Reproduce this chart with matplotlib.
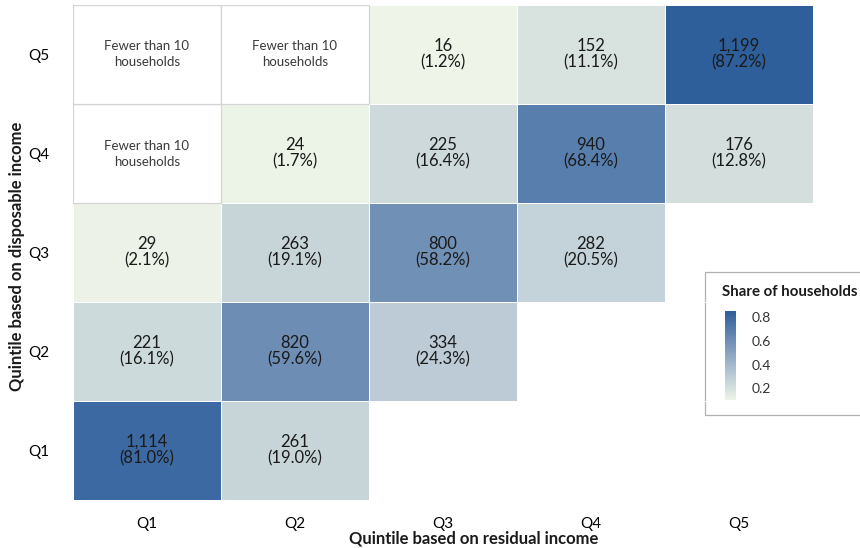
import numpy as np
import matplotlib
matplotlib.use("Agg")
import matplotlib.pyplot as plt
from matplotlib.colors import LinearSegmentedColormap, Normalize

plt.rcParams['font.family'] = ['Lato', 'DejaVu Sans']

quintiles = ["Q1", "Q2", "Q3", "Q4", "Q5"]
# rows: disposable income Q1..Q5, cols: residual income Q1..Q5
# -1 = fewer than 10 households, nan = no cell
counts = np.array([
    [1114, 261, np.nan, np.nan, np.nan],
    [221, 820, 334, np.nan, np.nan],
    [29, 263, 800, 282, np.nan],
    [-1, 24, 225, 940, 176],
    [-1, -1, 16, 152, 1199],
])
shares = np.array([
    [81.0, 19.0, np.nan, np.nan, np.nan],
    [16.1, 59.6, 24.3, np.nan, np.nan],
    [2.1, 19.1, 58.2, 20.5, np.nan],
    [np.nan, 1.7, 16.4, 68.4, 12.8],
    [np.nan, np.nan, 1.2, 11.1, 87.2],
])
legend_ticks = [0.2, 0.4, 0.6, 0.8]

cmap = LinearSegmentedColormap.from_list("share", [
    (0.0, "#eef4e8"), (0.14, "#d3dfdd"), (0.27, "#bccbd6"),
    (0.68, "#6d8db5"), (1.0, "#2e5f9b")])
norm = Normalize(vmin=0.01, vmax=0.872)

fig = plt.figure(figsize=(8.6, 5.48), dpi=100)
W, H = 860, 548
ax = fig.add_axes([73 / W, 1 - 500 / H, 740 / W, 495 / H])
ax.patch.set_visible(False)

frac = np.ma.masked_invalid(shares / 100)
ax.pcolormesh(np.arange(6), np.arange(6), frac, cmap=cmap, norm=norm,
              edgecolors="white", linewidth=0.6)

# cells with fewer than 10 households: white with grey outline
rows, cols = np.where(counts == -1)
ax.bar(cols, 1, bottom=rows, width=1, align="edge", color="white",
       edgecolor="#d4d4d4", linewidth=0.9)

for i in range(5):
    for j in range(5):
        c = counts[i, j]
        if np.isnan(c):
            continue
        if c == -1:
            ax.text(j + 0.5, i + 0.5, "Fewer than 10\nhouseholds", ha="center", va="center",
                    fontsize=9.5, color="#3a3a3a", linespacing=1.4)
        else:
            ax.text(j + 0.5, i + 0.5, "{:,}\n({:.1f}%)".format(int(c), shares[i, j]),
                    ha="center", va="center", fontsize=12, color="#1a1a1a", linespacing=1.05)

ax.set_xlim(0, 5)
ax.set_ylim(0, 5)
ax.set_xticks(np.arange(5) + 0.5)
ax.set_xticklabels(quintiles, fontsize=11)
ax.set_yticks(np.arange(5) + 0.5)
ax.set_yticklabels(quintiles, fontsize=11)
ax.tick_params(length=0, pad=12)
ax.tick_params(axis="y", pad=17)
for s in ax.spines.values():
    s.set_visible(False)

fig.text(474 / W, 1 - 538 / H, "Quintile based on residual income", ha="center", va="center",
         fontsize=12, fontweight="bold", color="#1a1a1a")
fig.text(17 / W, 1 - 256 / H, "Quintile based on disposable income", ha="center", va="center",
         rotation=90, fontsize=12, fontweight="bold", color="#1a1a1a")

# legend box
box = plt.Rectangle((705 / W, 1 - 415 / H), 170 / W, 143 / H, transform=fig.transFigure,
                    facecolor="white", edgecolor="#b0b0b0", linewidth=0.9, zorder=-1)
fig.patches.append(box)
fig.text(722 / W, 1 - 292 / H, "Share of households", ha="left", va="center",
         fontsize=10.8, fontweight="bold", color="#1a1a1a")
cax = fig.add_axes([725 / W, 1 - 400 / H, 10 / W, 89 / H])
cax.set_zorder(5)
lo, hi = 0.1, 0.855
grad = np.linspace(norm.vmin, norm.vmax, 200).reshape(-1, 1)
cax.imshow(grad, cmap=cmap, norm=norm, aspect="auto", origin="lower", extent=(0, 1, lo, hi))
cax.set_xticks([])
cax.yaxis.tick_right()
cax.set_yticks(legend_ticks)
cax.set_yticklabels([str(t) for t in legend_ticks], fontsize=10, color="#333333")
cax.tick_params(length=0, pad=12)
for s in cax.spines.values():
    s.set_visible(False)

fig.savefig("out.png", dpi=100)
